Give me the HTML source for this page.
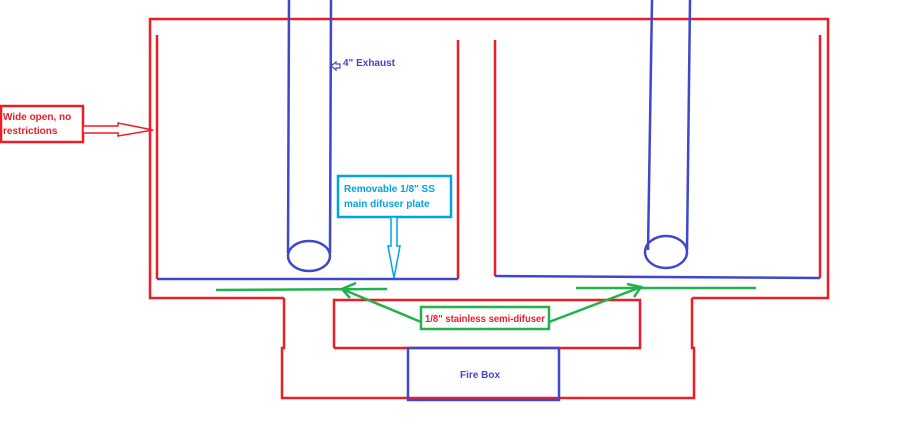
<!DOCTYPE html><html><head><style>body{margin:0;background:#fff}svg{display:block}text{font-family:"Liberation Sans",sans-serif;font-weight:bold;font-size:10px}</style></head><body>
<svg width="900" height="448" viewBox="0 0 900 448">
<g fill="none" stroke="#ee1c24" stroke-width="2.5">
<polyline points="284,298 150,298 150,19 828,19 828,298 692,298"/>
<polyline points="284,298 284,348 282,348 282,398 694,398 694,348 692,348 692,298"/>
<polyline points="334,348 334,300 640,300 640,348 334,348"/>
<line x1="157" y1="35" x2="157" y2="279"/>
<line x1="458" y1="40" x2="458" y2="279"/>
<line x1="495" y1="40" x2="495" y2="276"/>
<line x1="820" y1="35" x2="820" y2="278"/>
<rect x="1" y="106" width="82" height="36"/>
</g>
<polygon points="83,126 118,126 118,123 153,130 118,136 118,133 83,133" fill="#fff" stroke="#ee1c24" stroke-width="1.5"/>
<text x="3" y="120" fill="#ee1c24">Wide open, no</text>
<text x="3" y="134" fill="#ee1c24">restrictions</text>
<g fill="none" stroke="#3f48cc" stroke-width="2.5">
<line x1="157" y1="279" x2="458" y2="279"/>
<line x1="495" y1="276" x2="820" y2="278"/>
<line x1="289" y1="0" x2="288" y2="253"/>
<line x1="331" y1="0" x2="330" y2="253"/>
<ellipse cx="309" cy="256" rx="21" ry="15"/>
<line x1="652" y1="0" x2="648" y2="250"/>
<line x1="690" y1="0" x2="687" y2="250"/>
<ellipse cx="666" cy="252" rx="21" ry="16"/>
<rect x="408" y="348" width="151" height="52"/>
</g>
<polygon points="331,66 336,62 336,64 340,64 340,68 336,68 336,70" fill="#fff" stroke="#3f48cc" stroke-width="1.2"/>
<text x="343" y="66" fill="#3f48cc">4" Exhaust</text>
<text x="460" y="378" fill="#3f48cc">Fire Box</text>
<rect x="338" y="176" width="113" height="41" fill="#fff" stroke="#00a2e8" stroke-width="2.5"/>
<text x="344" y="192" fill="#00a2e8">Removable 1/8" SS</text>
<text x="344" y="207" fill="#00a2e8">main difuser plate</text>
<polygon points="391,217 397,217 397,246 400,246 394,278 388,246 391,246" fill="#fff" stroke="#00a2e8" stroke-width="1.5"/>
<g stroke="#22b14c" stroke-width="2.5" fill="none">
<line x1="216" y1="290" x2="387" y2="289"/>
<line x1="576" y1="288" x2="756" y2="288"/>
<line x1="421" y1="322" x2="342" y2="289"/>
<polyline points="356,283 342,289 350,298"/>
<line x1="549" y1="322" x2="641" y2="287"/>
<polyline points="627,284 641,287 634,297"/>
<rect x="421" y="307" width="128" height="22"/>
</g>
<text x="425" y="322" fill="#ee1c24" textLength="120" lengthAdjust="spacingAndGlyphs">1/8" stainless semi-difuser</text>
</svg></body></html>
